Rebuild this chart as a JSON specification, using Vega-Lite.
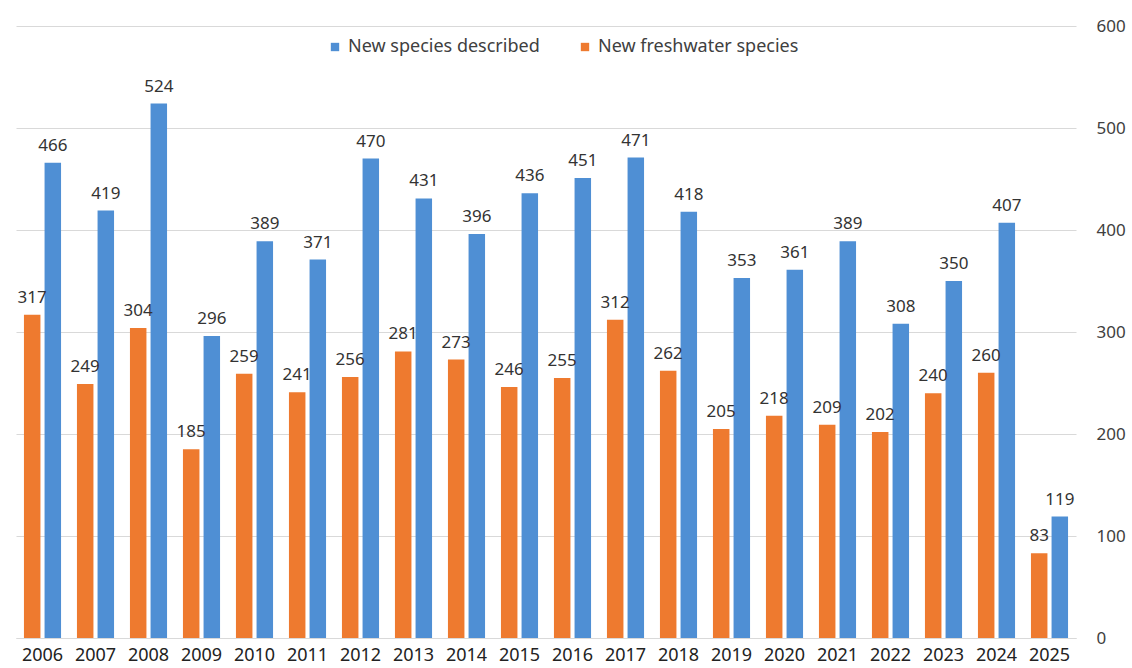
{
  "$schema": "https://vega.github.io/schema/vega-lite/v6.json",
  "width": 1060,
  "height": 612,
  "autosize": {"type": "none"},
  "padding": {"left": 16, "top": 26, "right": 56, "bottom": 30},
  "background": "white",
  "config": {
    "view": {"stroke": null},
    "font": "Noto Sans"
  },
  "data": {
    "values": [
      {"year": "2006", "series": "New freshwater species", "value": 317},
      {"year": "2006", "series": "New species described", "value": 466},
      {"year": "2007", "series": "New freshwater species", "value": 249},
      {"year": "2007", "series": "New species described", "value": 419},
      {"year": "2008", "series": "New freshwater species", "value": 304},
      {"year": "2008", "series": "New species described", "value": 524},
      {"year": "2009", "series": "New freshwater species", "value": 185},
      {"year": "2009", "series": "New species described", "value": 296},
      {"year": "2010", "series": "New freshwater species", "value": 259},
      {"year": "2010", "series": "New species described", "value": 389},
      {"year": "2011", "series": "New freshwater species", "value": 241},
      {"year": "2011", "series": "New species described", "value": 371},
      {"year": "2012", "series": "New freshwater species", "value": 256},
      {"year": "2012", "series": "New species described", "value": 470},
      {"year": "2013", "series": "New freshwater species", "value": 281},
      {"year": "2013", "series": "New species described", "value": 431},
      {"year": "2014", "series": "New freshwater species", "value": 273},
      {"year": "2014", "series": "New species described", "value": 396},
      {"year": "2015", "series": "New freshwater species", "value": 246},
      {"year": "2015", "series": "New species described", "value": 436},
      {"year": "2016", "series": "New freshwater species", "value": 255},
      {"year": "2016", "series": "New species described", "value": 451},
      {"year": "2017", "series": "New freshwater species", "value": 312},
      {"year": "2017", "series": "New species described", "value": 471},
      {"year": "2018", "series": "New freshwater species", "value": 262},
      {"year": "2018", "series": "New species described", "value": 418},
      {"year": "2019", "series": "New freshwater species", "value": 205},
      {"year": "2019", "series": "New species described", "value": 353},
      {"year": "2020", "series": "New freshwater species", "value": 218},
      {"year": "2020", "series": "New species described", "value": 361},
      {"year": "2021", "series": "New freshwater species", "value": 209},
      {"year": "2021", "series": "New species described", "value": 389},
      {"year": "2022", "series": "New freshwater species", "value": 202},
      {"year": "2022", "series": "New species described", "value": 308},
      {"year": "2023", "series": "New freshwater species", "value": 240},
      {"year": "2023", "series": "New species described", "value": 350},
      {"year": "2024", "series": "New freshwater species", "value": 260},
      {"year": "2024", "series": "New species described", "value": 407},
      {"year": "2025", "series": "New freshwater species", "value": 83},
      {"year": "2025", "series": "New species described", "value": 119}
    ]
  },
  "encoding": {
    "x": {
      "field": "year",
      "type": "nominal",
      "scale": {"paddingInner": 0.3, "paddingOuter": 0.15},
      "axis": {
        "title": null,
        "labelAngle": 0,
        "labelFontSize": 18,
        "labelColor": "#222222",
        "labelPadding": 8,
        "ticks": false,
        "domainColor": "#d9d9d9",
        "domainWidth": 1
      }
    },
    "xOffset": {
      "field": "series",
      "type": "nominal",
      "scale": {"domain": ["New freshwater species", "New species described"], "paddingInner": 0.2, "paddingOuter": 0}
    },
    "y": {
      "field": "value",
      "type": "quantitative",
      "scale": {"domain": [0, 600], "nice": false},
      "axis": {
        "title": null,
        "orient": "right",
        "values": [0, 100, 200, 300, 400, 500, 600],
        "grid": true,
        "gridColor": "#d9d9d9",
        "gridWidth": 1,
        "domain": false,
        "ticks": false,
        "labelPadding": 20,
        "labelFontSize": 17,
        "labelColor": "#404040"
      }
    }
  },
  "layer": [
    {
      "mark": {"type": "bar"},
      "encoding": {
        "color": {
          "field": "series",
          "type": "nominal",
          "scale": {"domain": ["New species described", "New freshwater species"], "range": ["#4f8fd4", "#ee7a2f"]},
          "legend": {
            "title": null,
            "orient": "none",
            "legendX": 310,
            "legendY": 12,
            "direction": "horizontal",
            "symbolType": "square",
            "symbolSize": 70,
            "symbolStrokeWidth": 0,
            "labelFontSize": 18,
            "labelColor": "#404040",
            "labelOffset": 4,
            "labelLimit": 0,
            "columnPadding": 36
          }
        }
      }
    },
    {
      "mark": {"type": "text", "baseline": "bottom", "dy": -8, "fontSize": 17, "color": "#333333"},
      "encoding": {
        "text": {"field": "value", "type": "quantitative"}
      }
    }
  ]
}
